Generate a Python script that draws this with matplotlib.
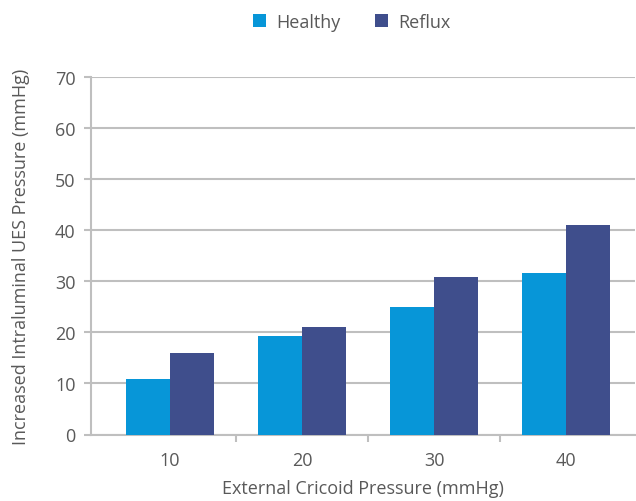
import matplotlib
matplotlib.use("Agg")
import matplotlib.pyplot as plt
import numpy as np
from matplotlib.ticker import FixedLocator

categories = ["10", "20", "30", "40"]
healthy = [10.8, 19.2, 24.9, 31.7]
reflux = [16.0, 21.1, 30.9, 41.1]

plt.rcParams['font.family'] = ['Open Sans', 'DejaVu Sans']
txt = '#595959'
grid = '#BFBFBF'

fig = plt.figure(figsize=(6.36, 5.02), dpi=100)
ax = fig.add_axes([91/636, 66.5/502, 544/636, 357.5/502])

x = np.arange(len(categories))
w = 0.333
ax.bar(x - w/2, healthy, w, color='#0796D8', label='Healthy', zorder=3)
ax.bar(x + w/2, reflux, w, color='#3F4E8C', label='Reflux', zorder=3)

ax.set_xlim(-0.598, 3.52)
ax.set_ylim(0, 70)
ax.set_yticks(range(0, 71, 10))
ax.yaxis.grid(True, color=grid, linewidth=1.5, zorder=0)
ax.set_axisbelow(True)
ax.set_xticks(x)
ax.set_xticklabels(categories)
ax.xaxis.set_minor_locator(FixedLocator([0.5, 1.5, 2.5]))
ax.tick_params(axis='x', which='major', length=0, pad=12, labelsize=13, labelcolor=txt)
ax.tick_params(axis='x', which='minor', length=5, color=grid, width=1.5)
ax.tick_params(axis='y', length=5, color=grid, width=1.5, labelsize=13, labelcolor=txt, pad=6)

for s in ['top', 'right']:
    ax.spines[s].set_visible(False)
for s in ['left', 'bottom']:
    ax.spines[s].set_color(grid)
    ax.spines[s].set_linewidth(1.5)

ax.set_xlabel('External Cricoid Pressure (mmHg)', fontsize=13, color=txt, labelpad=7)
ax.set_ylabel('Increased Intraluminal UES Pressure (mmHg)', fontsize=13, color=txt, labelpad=18)

leg = fig.legend(loc='upper center', bbox_to_anchor=(0.553, 1.005), ncol=2, frameon=False,
                 fontsize=13, handlelength=0.7, handleheight=0.7, columnspacing=1.95,
                 handletextpad=0.55)
for t in leg.get_texts():
    t.set_color(txt)

fig.savefig('out.png', dpi=100)
